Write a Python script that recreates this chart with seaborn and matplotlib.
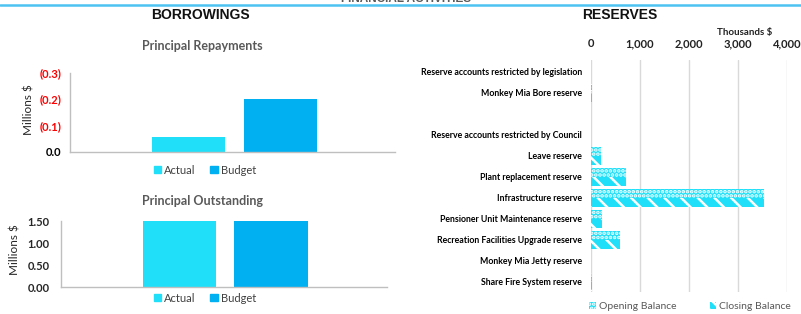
import matplotlib
matplotlib.use("Agg")
import matplotlib.pyplot as plt
import matplotlib.patches as mpatches
from matplotlib.lines import Line2D
import pandas as pd
import seaborn as sns

# data
series = ["Actual", "Budget"]
repayments = [-0.057, -0.20]   # millions $, shown in brackets
outstanding = [1.50, 1.50]     # millions $

reserve_labels = [
    "Reserve accounts restricted by legislation",
    "Monkey Mia Bore reserve",
    " ",
    "Reserve accounts restricted by Council",
    "Leave reserve",
    "Plant replacement reserve",
    "Infrastructure reserve",
    "Pensioner Unit Maintenance reserve",
    "Recreation Facilities Upgrade reserve",
    "Monkey Mia Jetty reserve",
    "Share Fire System reserve",
]
opening = [0, 15, 0, 0, 210, 715, 3530, 220, 590, 10, 25]
closing = [0, 15, 0, 0, 205, 715, 3530, 215, 590, 10, 30]
balances = ["Opening Balance", "Closing Balance"]

c_actual = "#1FE0F8"
c_budget = "#00B0F0"
c_res = "#1FE0F8"

sns.set_style("white")
plt.rcParams["font.family"] = ["Lato", "DejaVu Sans"]
plt.rcParams["hatch.linewidth"] = 1.8
plt.rcParams["hatch.color"] = "white"

fig = plt.figure(figsize=(8.01, 3.14), dpi=100)
W, H = 801, 314


def box(l, t, r, b):
    return [l / W, 1 - b / H, (r - l) / W, (b - t) / H]


# header line and titles
fig.add_artist(Line2D([0, 1], [1 - 4.5 / H] * 2, color="#4DC3F2", lw=1.8,
                      transform=fig.transFigure))
fig.text(406 / W, 1 - 2.5 / H, "FINANCIAL ACTIVITIES", ha="center", va="baseline",
         fontsize=8.5, fontweight="bold", color="#595959", family="Liberation Sans")
fig.text(200 / W, 1 - 15 / H, "BORROWINGS", ha="center", va="center",
         fontsize=10, fontweight="bold", family="Liberation Sans", color="#111111")
fig.text(620 / W, 1 - 15 / H, "RESERVES", ha="center", va="center",
         fontsize=10, fontweight="bold", family="Liberation Sans", color="#111111")
fig.text(202 / W, 1 - 46 / H, "Principal Repayments", ha="center", va="center",
         fontsize=9, fontweight="bold", color="#595959")
fig.text(202 / W, 1 - 201 / H, "Principal Outstanding", ha="center", va="center",
         fontsize=9, fontweight="bold", color="#595959")

grey = "#BFBFBF"


def style_left(ax, xlim):
    ax.set_xlim(*xlim)
    ax.set_xticks(list(xlim))
    ax.set_xticklabels(["", ""])
    for s in ["top", "right"]:
        ax.spines[s].set_visible(False)
    for s in ["left", "bottom"]:
        ax.spines[s].set_color(grey)
        ax.spines[s].set_linewidth(1)
    ax.tick_params(axis="both", direction="out", length=3, color=grey, width=1)
    ax.tick_params(axis="y", pad=3, labelsize=8)
    for t in ax.get_yticklabels():
        t.set_fontweight("bold")
    ax.set_xlabel("")


def legend_left(y):
    handles = [mpatches.Patch(color=c_actual), mpatches.Patch(color=c_budget)]
    fig.legend(handles, series, loc="center", bbox_to_anchor=(205 / W, 1 - y / H),
               bbox_transform=fig.transFigure, ncol=2, frameon=False, fontsize=8,
               handlelength=0.65, handleheight=0.65, handletextpad=0.3,
               columnspacing=1.3, labelcolor="#404040")


# Principal Repayments
ax1 = fig.add_axes(box(70, 72.7, 395, 152))
sns.barplot(x=series, y=repayments, hue=series, palette=[c_actual, c_budget],
            saturation=1, width=0.79, legend=False, linewidth=0, ax=ax1)
ax1.set_ylim(0, -0.3)
ax1.set_yticks([0, -0.1, -0.2, -0.3])
ax1.set_yticklabels(["0.0" if v == 0 else f"({abs(v):.1f})" for v in [0, -0.1, -0.2, -0.3]])
style_left(ax1, (-1.28, 2.24))
for t, v in zip(ax1.get_yticklabels(), [0, -0.1, -0.2, -0.3]):
    t.set_color("red" if v < 0 else "black")
ax1.set_ylabel("Millions $", fontsize=8.5)
ax1.yaxis.set_label_coords(-0.109, 0.53)
legend_left(170)

# Principal Outstanding
ax2 = fig.add_axes(box(61, 221.3, 387, 287.3))
sns.barplot(x=series, y=outstanding, hue=series, palette=[c_actual, c_budget],
            saturation=1, width=0.8, legend=False, linewidth=0, ax=ax2)
ax2.set_ylim(0, 1.5)
ax2.set_yticks([0, 0.5, 1.0, 1.5])
ax2.set_yticklabels([f"{v:.2f}" for v in [0, 0.5, 1.0, 1.5]])
style_left(ax2, (-1.29, 2.265))
ax2.tick_params(axis="y", pad=5)
ax2.set_ylabel("Millions $", fontsize=8.5)
ax2.yaxis.set_label_coords(-0.124, 0.565)
legend_left(298)

# Reserves
df = pd.DataFrame({
    "reserve": reserve_labels * 2,
    "balance": [balances[0]] * len(opening) + [balances[1]] * len(closing),
    "value": opening + closing,
})
ax3 = fig.add_axes(box(591, 60, 787, 292))
sns.barplot(data=df, y="reserve", x="value", hue="balance", order=reserve_labels,
            hue_order=balances, palette=[c_res, c_res], saturation=1, width=0.86,
            orient="h", legend=False, linewidth=0, ax=ax3)
hatches = ["....", "\\\\"]
for cont, h in zip(ax3.containers, hatches):
    for bar in cont:
        bar.set_hatch(h)
        bar.set_edgecolor("white")
        bar.set_linewidth(0)
ax3.set_xlim(0, 4000)
ax3.set_ylim(10.49, -0.57)
ax3.set_xticks([0, 1000, 2000, 3000, 4000])
ax3.set_xticklabels([f"{v:,}" for v in [0, 1000, 2000, 3000, 4000]])
ax3.xaxis.tick_top()
ax3.tick_params(axis="x", length=0, pad=8, labelsize=8, labelcolor="#222222")
ax3.tick_params(axis="y", length=0, pad=6.5, labelsize=6.3, labelcolor="#000000")
for t in ax3.get_xticklabels() + ax3.get_yticklabels():
    t.set_fontweight("bold")
ax3.grid(axis="x", color="#D9D9D9", lw=1)
ax3.set_axisbelow(True)
for s in ax3.spines.values():
    s.set_visible(False)
ax3.set_xlabel("")
ax3.set_ylabel("")
fig.text(745 / W, 1 - 32 / H, "Thousands $", ha="center", va="center",
         fontsize=7, fontweight="bold", color="#222222")

res_handles = [mpatches.Patch(facecolor=c_res, edgecolor="white", lw=0, hatch=h)
               for h in ["....", "\\\\\\"]]
fig.legend(res_handles, balances, loc="center", bbox_to_anchor=(690 / W, 1 - 306.5 / H),
           bbox_transform=fig.transFigure, ncol=2, frameon=False, fontsize=7.5,
           handlelength=0.65, handleheight=0.65, handletextpad=0.3,
           columnspacing=3.2, labelcolor="#595959")

fig.savefig("out.png", dpi=100)
